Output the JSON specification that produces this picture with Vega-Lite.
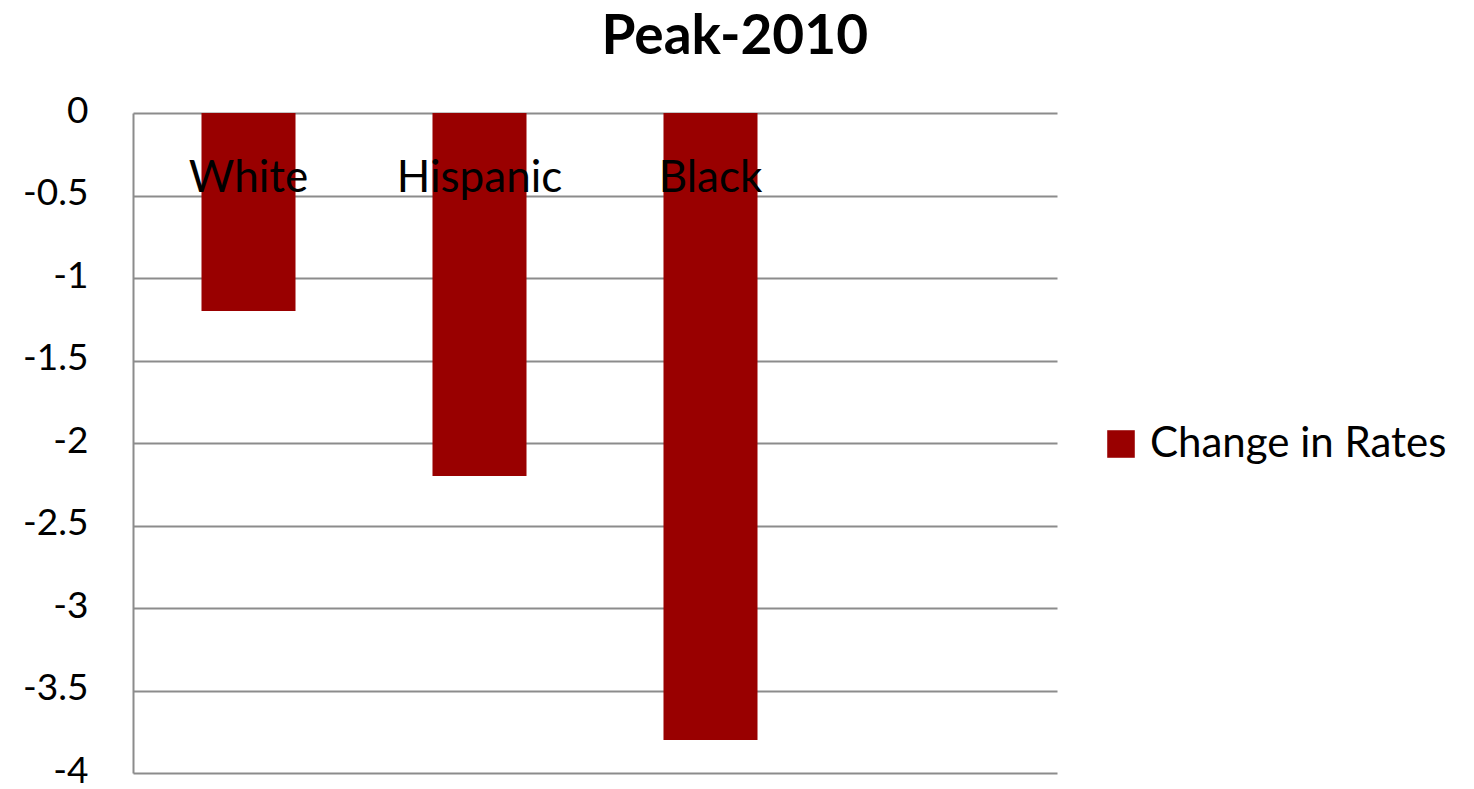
{
  "$schema": "https://vega.github.io/schema/vega-lite/v6.json",
  "width": 924,
  "height": 660,
  "autosize": {"type": "none"},
  "padding": {"left": 133, "top": 113, "right": 417, "bottom": 16},
  "background": "white",
  "title": {
    "text": "Peak-2010",
    "font": "Lato",
    "fontSize": 55,
    "fontWeight": "bold",
    "color": "black",
    "anchor": "middle",
    "frame": "bounds",
    "offset": 26
  },
  "data": {
    "values": [
      {"group": "White", "change": -1.2, "series": "Change in Rates"},
      {"group": "Hispanic", "change": -2.2, "series": "Change in Rates"},
      {"group": "Black", "change": -3.8, "series": "Change in Rates"}
    ]
  },
  "encoding": {
    "x": {
      "field": "group",
      "type": "nominal",
      "sort": null,
      "scale": {"domain": ["White", "Hispanic", "Black", " "], "paddingInner": 0.593, "paddingOuter": 0.2965},
      "axis": null
    }
  },
  "layer": [
    {
      "mark": {"type": "bar", "cornerRadius": 0},
      "encoding": {
        "y": {
          "field": "change",
          "type": "quantitative",
          "scale": {"domain": [-4, 0], "nice": false, "zero": true},
          "axis": {
            "title": null,
            "values": [0, -0.5, -1, -1.5, -2, -2.5, -3, -3.5, -4],
            "labelExpr": "datum.value == 0 ? '0' : '-' + format(abs(datum.value), '')",
            "grid": true,
            "gridColor": "#8c8c8c",
            "gridWidth": 2,
            "domainColor": "#8c8c8c",
            "domainWidth": 2,
            "ticks": false,
            "labelFont": "Lato",
            "labelFontSize": 37,
            "labelColor": "black",
            "labelPadding": 45,
            "labelOffset": -2
          }
        },
        "y2": {"datum": 0},
        "color": {
          "field": "series",
          "type": "nominal",
          "scale": {"range": ["#990000"]},
          "legend": {
            "title": null,
            "orient": "none",
            "legendX": 967,
            "legendY": 310,
            "symbolType": "square",
            "symbolSize": 760,
            "symbolStrokeWidth": 0,
            "labelFont": "Lato",
            "labelFontSize": 42,
            "labelColor": "black",
            "labelOffset": 8,
            "labelLimit": 600
          }
        }
      }
    },
    {
      "mark": {"type": "text", "font": "Lato", "fontSize": 44, "color": "black", "baseline": "alphabetic", "align": "center", "dy": 79},
      "encoding": {
        "y": {"datum": 0},
        "text": {"field": "group"}
      }
    }
  ],
  "config": {"view": {"stroke": null}}
}
